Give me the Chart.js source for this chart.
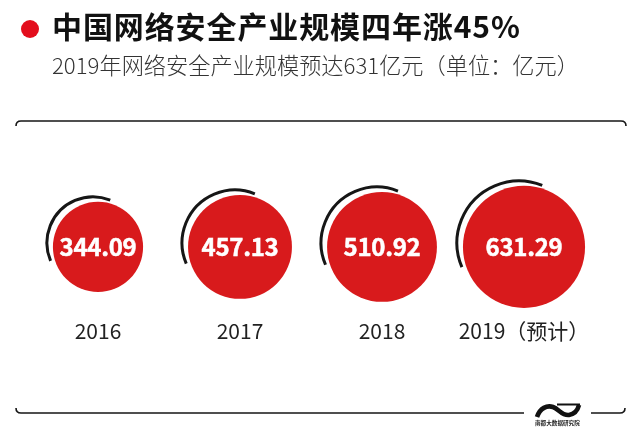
<!DOCTYPE html>
<html>
<head>
<meta charset="utf-8">
<script src="https://cdn.jsdelivr.net/npm/chart.js@4"></script>
<style>
  html, body { margin: 0; padding: 0; background: #fff; }
  #wrap { position: relative; width: 640px; height: 428px; overflow: hidden; font-family: "Noto Sans CJK SC", sans-serif; }
  #financial { position: absolute; left: 0; top: 0; }
  .dot { position: absolute; left: 21px; top: 20px; width: 18px; height: 18px; border-radius: 50%; background: #e30e1d; }
  .title, .subtitle, .brand { position: absolute; white-space: nowrap; }
  .title { left: 52px; top: 3px; font-size: 30px; line-height: 44px; font-weight: 700; color: #111; letter-spacing: 0.9px; }
  .subtitle { left: 52px; top: 48px; font-size: 22.2px; line-height: 32px; font-weight: 300; color: #333; }
  .brand { left: 535px; top: 419px; font-size: 5.6px; line-height: 8px; font-weight: 700; color: #222; }
  svg { position: absolute; left: 530px; top: 398px; }
</style>
</head>
<body>
<div id="wrap">
  <canvas id="financial" width="640" height="428"></canvas>
  <div class="dot"></div>
  <div class="title">中国网络安全产业规模四年涨45%</div>
  <div class="subtitle">2019年网络安全产业规模预达631亿元（单位：亿元）</div>
  <svg width="56" height="24">
    <path d="M7 19 C10 10 17 7 23 9 C29 11 32 18 39 17 C45 16 48 11 49 7" fill="none" stroke="#111" stroke-width="4.6"/>
    <path d="M27 6.5 L50 6.5" fill="none" stroke="#111" stroke-width="2"/>
  </svg>
  <div class="brand">南都大数据研究院</div>
</div>
<script>
// Market size by year, 100 million yuan
const years = ['2016', '2017', '2018', '2019（预计）'];
const sizes = [344.09, 457.13, 510.92, 631.29];

const RADIUS_PER_ROOT = 2.43; // bubble area follows the value

// Black arcs and white value labels on top of each bubble
const bubbleDecor = {
    id: 'bubbleDecor',
    afterDatasetsDraw(chart) {
        const ctx = chart.ctx;
        chart.getDatasetMeta(0).data.forEach((pt, i) => {
            const r = RADIUS_PER_ROOT * Math.sqrt(sizes[i]);
            ctx.save();
            ctx.strokeStyle = '#161616';
            ctx.lineWidth = 3;
            ctx.beginPath();
            ctx.arc(pt.x - 5, pt.y - 4, r + 1, 157 * Math.PI / 180, 292 * Math.PI / 180);
            ctx.stroke();
            ctx.fillStyle = '#fff';
            ctx.strokeStyle = '#fff';
            ctx.lineWidth = 0.5;
            ctx.font = '700 24px "Noto Sans CJK SC"';
            ctx.letterSpacing = '-0.3px';
            ctx.textAlign = 'center';
            ctx.textBaseline = 'middle';
            ctx.fillText(sizes[i].toFixed(2), pt.x, pt.y);
            ctx.strokeText(sizes[i].toFixed(2), pt.x, pt.y);
            ctx.restore();
        });
    }
};

// Frame lines above and below the bubbles
const framePlugin = {
    id: 'framePlugin',
    beforeDraw(chart) {
        const ctx = chart.ctx;
        ctx.save();
        ctx.strokeStyle = '#161616';
        ctx.lineWidth = 1.6;
        ctx.beginPath();
        ctx.moveTo(16, 126);
        ctx.quadraticCurveTo(16, 121, 21, 121);
        ctx.lineTo(621, 121);
        ctx.quadraticCurveTo(626, 121, 626, 126);
        ctx.moveTo(16, 408);
        ctx.quadraticCurveTo(16, 413, 21, 413);
        ctx.lineTo(524, 413);
        ctx.moveTo(591, 413);
        ctx.lineTo(620, 413);
        ctx.quadraticCurveTo(625, 413, 625, 408);
        ctx.stroke();
        ctx.restore();
    }
};

const chart = new Chart(document.getElementById('financial').getContext('2d'), {
    type: 'bubble',
    data: {
        labels: years,
        datasets: [{
            data: sizes.map((v, i) => ({ x: i, y: 0, r: RADIUS_PER_ROOT * Math.sqrt(v) })),
            backgroundColor: '#d81a1c',
            borderWidth: 0,
            clip: false
        }]
    },
    options: {
        responsive: false,
        animation: false,
        layout: { padding: { left: 98, right: 116, top: 196, bottom: 71 } },
        plugins: {
            legend: { display: false },
            tooltip: { enabled: false }
        },
        scales: {
            x: {
                type: 'category',
                offset: false,
                grid: { display: false },
                border: { display: false },
                ticks: {
                    maxRotation: 0,
                    autoSkip: false,
                    padding: 13,
                    color: '#222',
                    font: { family: '"Noto Sans CJK SC"', size: 21 }
                }
            },
            y: { display: false, min: -1, max: 1 }
        }
    },
    plugins: [framePlugin, bubbleDecor]
});
</script>
</body>
</html>
